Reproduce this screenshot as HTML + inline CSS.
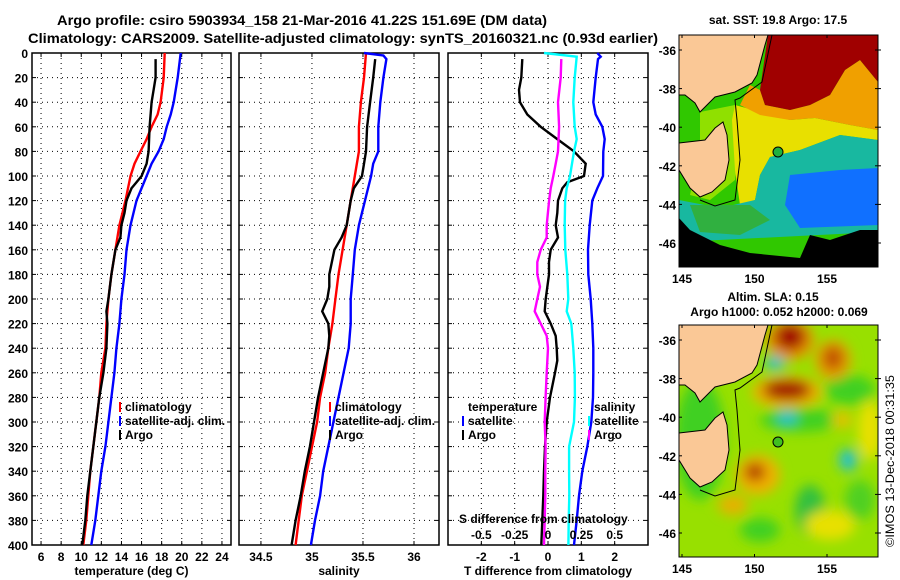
<!DOCTYPE html>
<html><head><meta charset="utf-8"><style>
body{margin:0;background:#fff;}
svg{display:block;font-family:"Liberation Sans",sans-serif;font-weight:bold;}
</style></head><body>
<svg id="fig" width="900" height="580" viewBox="0 0 900 580" xmlns="http://www.w3.org/2000/svg">
<rect width="900" height="580" fill="#fff"/>
<text x="57" y="25" font-size="14" textLength="490" lengthAdjust="spacingAndGlyphs">Argo profile: csiro 5903934_158 21-Mar-2016 41.22S 151.69E (DM data)</text>
<text x="28" y="43" font-size="14" textLength="630" lengthAdjust="spacingAndGlyphs">Climatology: CARS2009. Satellite-adjusted climatology: synTS_20160321.nc (0.93d earlier)</text>
<g id="panels"></g>
<g id="maps">
 <text x="778" y="24" font-size="12" text-anchor="middle">sat. SST: 19.8 Argo: 17.5</text>
 <svg x="679" y="35" width="199" height="232" overflow="hidden">
  <g transform="translate(-679,-35)">
   <rect x="679" y="35" width="199" height="232" fill="#30c800"/>
   <polygon fill="#90e000" points="700,112 735,105 740,140 735,180 710,200 690,195 700,150"/>
   <polygon fill="#e8e000" points="735,105 790,120 815,118 850,125 878,130 878,140 840,135 800,150 770,157 760,175 755,200 740,205 735,170 732,120"/>
   <polygon fill="#f0a000" points="750,85 760,90 765,105 790,110 810,105 830,95 845,70 860,60 878,82 878,130 850,125 815,118 790,120 760,115 740,105"/>
   <polygon fill="#a00000" points="768,35 878,35 878,82 860,60 845,70 830,95 810,105 790,110 765,105 760,90"/>
   <polygon fill="#18b8a0" points="770,157 800,150 840,135 878,140 878,232 679,242 679,200 720,208 755,200 760,175"/>
   <polygon fill="#1070ff" points="790,175 840,170 878,168 878,225 800,228 785,205"/>
   <polygon fill="#30b040" points="690,205 750,205 770,220 740,235 700,232"/>
   <polygon fill="#000" points="679,218 690,230 720,245 750,253 800,258 810,235 830,240 860,230 878,230 878,267 679,267"/>
   <polygon fill="#fac896" stroke="#000" stroke-width="1" points="679,35 768,35 765,45 757,75 752,83 735,92 715,97 705,107 700,112 695,103 685,95 679,95"/>
   <polygon fill="#fac896" stroke="#000" stroke-width="1" points="679,143 705,140 715,128 723,122 727,135 729,160 725,180 712,192 700,197 690,188 679,170"/>
   <path d="M772,35 L762,82 L740,98 L735,100 L737,120 L740,160 L735,200 L715,206 L700,200" fill="none" stroke="#000" stroke-width="1"/>
   <circle cx="778" cy="152" r="5" fill="#20b040" stroke="#000"/>
  </g>
 </svg>
 <rect x="679" y="35" width="199" height="232" fill="none" stroke="#000" stroke-width="1"/>
 <text x="773" y="301" font-size="12" text-anchor="middle">Altim. SLA: 0.15</text>
 <text x="779" y="316" font-size="12" text-anchor="middle">Argo h1000: 0.052 h2000: 0.069</text>
 <svg x="679" y="325" width="199" height="232" overflow="hidden">
  <defs><filter id="bl" x="-50%" y="-50%" width="200%" height="200%"><feGaussianBlur stdDeviation="6"/></filter></defs>
  <g transform="translate(-679,-325)">
   <rect x="679" y="325" width="199" height="232" fill="#98e000"/>
   <g filter="url(#bl)">
    <ellipse cx="700" cy="440" rx="25" ry="60" fill="#40d020"/>
    <ellipse cx="800" cy="420" rx="40" ry="12" fill="#40d020"/>
    <ellipse cx="850" cy="390" rx="25" ry="15" fill="#40d020"/>
    <ellipse cx="810" cy="510" rx="15" ry="25" fill="#30c040"/>
    <ellipse cx="760" cy="530" rx="20" ry="12" fill="#40d020"/>
    <ellipse cx="860" cy="500" rx="15" ry="20" fill="#50d020"/>
    <ellipse cx="790" cy="340" rx="24" ry="20" fill="#e89000"/>
    <ellipse cx="790" cy="337" rx="15" ry="13" fill="#a00000"/>
    <ellipse cx="833" cy="360" rx="18" ry="20" fill="#e8a000"/>
    <ellipse cx="833" cy="358" rx="10" ry="12" fill="#c05000"/>
    <ellipse cx="775" cy="363" rx="10" ry="7" fill="#20c0d0"/>
    <ellipse cx="787" cy="392" rx="35" ry="16" fill="#f0b000"/>
    <ellipse cx="787" cy="390" rx="24" ry="10" fill="#a00000"/>
    <ellipse cx="787" cy="418" rx="10" ry="7" fill="#20c0d0"/>
    <ellipse cx="848" cy="460" rx="9" ry="11" fill="#20c0d0"/>
    <ellipse cx="758" cy="475" rx="22" ry="20" fill="#f0b000"/>
    <ellipse cx="755" cy="472" rx="10" ry="9" fill="#b03000"/>
    <ellipse cx="733" cy="505" rx="15" ry="10" fill="#e8b000"/>
    <ellipse cx="830" cy="525" rx="25" ry="15" fill="#e8e000"/>
    <ellipse cx="870" cy="430" rx="12" ry="30" fill="#e8e000"/>
    <ellipse cx="842" cy="420" rx="10" ry="8" fill="#e8c000"/>
   </g>
   <polygon fill="#fac896" stroke="#000" stroke-width="1" points="679,325 768,325 765,335 757,365 752,373 735,382 715,387 705,397 700,402 695,393 685,385 679,385"/>
   <polygon fill="#fac896" stroke="#000" stroke-width="1" points="679,433 705,430 715,418 723,412 727,425 729,450 725,470 712,482 700,487 690,478 679,460"/>
   <path d="M772,325 L762,372 L740,388 L735,390 L737,410 L740,450 L735,490 L715,496 L700,490" fill="none" stroke="#000" stroke-width="1"/>
   <circle cx="778" cy="442" r="5" fill="#40c020" stroke="#000"/>
  </g>
 </svg>
 <rect x="679" y="325" width="199" height="232" fill="none" stroke="#000" stroke-width="1"/>
 <g id="mapticks" font-size="12"></g>
 <text transform="translate(894,547) rotate(-90)" font-size="12" font-weight="normal" textLength="172" lengthAdjust="spacingAndGlyphs">©IMOS 13-Dec-2018 00:31:35</text>
</g>
</svg>
<script>
// ---- data (depth in dbar) ----
const tempDepth = [0,20,40,50,60,70,80,90,100,120,140,160,180,200,220,240,260,280,300,320,340,360,380,400];
const tempClim  = [18.3,18.2,17.9,17.6,17.0,16.5,15.9,15.3,14.9,14.4,13.8,13.4,13.0,12.7,12.5,12.4,12.0,11.8,11.5,11.2,10.9,10.7,10.5,10.2];
const tempSat   = [19.9,19.6,19.2,18.9,18.5,18.2,17.7,17.0,16.5,15.5,14.9,14.5,14.3,14.0,13.8,13.5,13.3,13.0,12.7,12.4,12.0,11.7,11.4,11.0];
const argoDepth = [5,20,30,40,60,80,90,100,105,110,120,130,140,150,160,170,180,200,210,220,240,260,280,300,320,340,360,380,400];
const tempArgo  = [17.4,17.4,17.2,17.0,16.8,16.7,16.5,16.0,15.5,15.0,14.5,14.3,14.0,13.9,13.4,13.2,13.0,12.7,12.5,12.6,12.5,12.2,11.8,11.5,11.2,10.9,10.6,10.4,10.1];
const salDepth  = [0,20,40,60,80,100,120,140,160,180,200,220,240,260,280,300,320,340,360,380,400];
const salClim   = [35.53,35.51,35.48,35.46,35.46,35.42,35.38,35.34,35.30,35.26,35.23,35.20,35.16,35.13,35.08,35.05,35.00,34.95,34.90,34.87,34.84];
const salSatDepth = [0,2,5,20,40,60,80,90,100,120,140,160,180,200,220,240,260,280,300,320,340,360,380,400];
const salSat    = [35.51,35.70,35.73,35.70,35.67,35.65,35.65,35.60,35.58,35.52,35.46,35.42,35.40,35.38,35.38,35.36,35.31,35.26,35.21,35.16,35.11,35.08,35.03,34.99];
const salArgoDepth = [5,20,40,60,80,100,110,120,140,150,160,180,190,200,210,220,230,240,260,280,300,320,340,360,380,400];
const salArgo   = [35.62,35.60,35.57,35.54,35.53,35.49,35.41,35.38,35.34,35.29,35.22,35.17,35.17,35.15,35.10,35.16,35.17,35.16,35.11,35.06,35.02,34.98,34.93,34.89,34.84,34.80];
const dTArgoDepth = [5,20,30,40,50,60,70,80,90,100,105,110,120,130,140,150,160,170,180,200,210,220,230,240,250,260,280,300,320,340,360,380,400];
const dTArgo    = [-0.77,-0.8,-0.87,-0.84,-0.62,-0.22,0.28,0.78,1.13,1.08,0.58,0.43,0.3,0.28,0.23,0.3,0.08,0.03,0.03,-0.07,-0.1,0.08,0.23,0.26,0.28,0.21,0.06,-0.04,-0.09,-0.12,-0.14,-0.17,-0.2];
const dTSatDepth = [0,3,5,20,40,50,60,70,80,100,110,120,140,160,180,200,220,240,260,280,300,320,340,360,380,400];
const dTSat     = [1.48,1.58,1.5,1.43,1.36,1.43,1.63,1.7,1.66,1.65,1.48,1.33,1.25,1.2,1.21,1.28,1.33,1.36,1.36,1.35,1.3,1.18,1.03,0.93,0.86,0.78];
const dSArgoDepth = [5,20,40,60,80,90,100,110,120,140,150,160,170,180,190,200,210,220,230,240,260,280,300,320,340,360,380,400];
const dSArgo    = [0.1,0.095,0.075,0.083,0.075,0.058,0.04,0.02,0.008,-0.01,-0.01,-0.055,-0.08,-0.08,-0.06,-0.08,-0.1,-0.055,-0.01,0,-0.01,-0.018,-0.025,-0.018,-0.02,-0.02,-0.025,-0.03];
const dSSatDepth = [0,3,20,40,60,70,80,90,100,110,120,140,160,180,200,210,220,240,260,280,300,320,340,360,380,400];
const dSSat     = [-0.03,0.215,0.2,0.19,0.2,0.215,0.195,0.18,0.165,0.14,0.128,0.125,0.13,0.145,0.152,0.14,0.175,0.19,0.2,0.202,0.195,0.158,0.158,0.16,0.155,0.153];
const depthTicks = [0,20,40,60,80,100,120,140,160,180,200,220,240,260,280,300,320,340,360,380,400];
const tempTicks = [6,8,10,12,14,16,18,20,22,24];
const salTicks = [34.5,35,35.5,36];
const dTTicks = [-2,-1,0,1,2];
const dSTicks = [-0.5,-0.25,0,0.25,0.5];
const dSTickLabels = ["-0.5","-0.25","0","0.25","0.5"];
const lonTicks = [145,150,155];
const latTicks = [-36,-38,-40,-42,-44,-46];

const NS="http://www.w3.org/2000/svg";
const Y0=53, Y1=545;
const yD = d => Y0 + d/400*(Y1-Y0);
function mk(tag, attrs, parent){const e=document.createElementNS(NS,tag);for(const k in attrs)e.setAttribute(k,attrs[k]);parent.appendChild(e);return e;}
const root=document.getElementById('panels');

function panel(name,x0,x1,vmin,vmax,ticks,labels,xlabel,showDepth){
  const g=mk('g',{},root);
  
  
  const sx=v=>x0+(v-vmin)/(vmax-vmin)*(x1-x0);
  depthTicks.forEach(d=>{ if(d>0&&d<400) mk('line',{x1:x0,x2:x1,y1:yD(d),y2:yD(d),stroke:'#000','stroke-dasharray':'1,4','stroke-width':1},g);
    mk('line',{x1:x0,x2:x0+4,y1:yD(d),y2:yD(d),stroke:'#000'},g);
    mk('line',{x1:x1-4,x2:x1,y1:yD(d),y2:yD(d),stroke:'#000'},g);
    if(showDepth){const t=mk('text',{x:28,y:yD(d)+5,'font-size':12,'text-anchor':'end'},g);t.textContent=d;
      
      }
  });
  ticks.forEach((v,i)=>{ mk('line',{x1:sx(v),x2:sx(v),y1:Y0,y2:Y1,stroke:'#000','stroke-dasharray':'1,4'},g);
    mk('line',{x1:sx(v),x2:sx(v),y1:Y1-4,y2:Y1,stroke:'#000'},g);
    mk('line',{x1:sx(v),x2:sx(v),y1:Y0,y2:Y0+4,stroke:'#000'},g);
    const t=mk('text',{x:sx(v),y:Y1+16,'font-size':12,'text-anchor':'middle'},g);t.textContent=labels[i];
    
    
  });
  mk('rect',{x:x0,y:Y0,width:x1-x0,height:Y1-Y0,fill:'none',stroke:'#000','stroke-width':1.5},g);
  const xl=mk('text',{x:(x0+x1)/2,y:575,'font-size':12,'text-anchor':'middle'},g);xl.textContent=xlabel;
  
  
  return {g,sx};
}
function line(p,depths,vals,color,name){
  const pts=depths.map((d,i)=>p.sx(vals[i]).toFixed(1)+','+yD(d).toFixed(1)).join(' ');
  const l=mk('polyline',{points:pts,fill:'none',stroke:color,'stroke-width':2.4},p.g);
  
  
}
function leg(g,x,y,color,txt){
  mk('rect',{x:x-6,y:y-9,width:2,height:10,fill:color},g);
  const t=mk('text',{x:x,y:y,'font-size':12},g);t.textContent=txt;
  
  
}

const p1=panel('temperature-panel',32,231,5.1,24.9,tempTicks,tempTicks,'temperature (deg C)',true);
line(p1,tempDepth,tempClim,'#f00','temp-climatology-line');
line(p1,tempDepth,tempSat,'#00f','temp-satellite-line');
line(p1,argoDepth,tempArgo,'#000','temp-argo-line');
leg(p1.g,125,411,'#f00','climatology');leg(p1.g,125,425,'#00f','satellite-adj. clim.');leg(p1.g,125,439,'#000','Argo');

const p2=panel('salinity-panel',239,439,34.285,36.245,salTicks,salTicks,'salinity',false);
line(p2,salDepth,salClim,'#f00','sal-climatology-line');
line(p2,salSatDepth,salSat,'#00f','sal-satellite-line');
line(p2,salArgoDepth,salArgo,'#000','sal-argo-line');
leg(p2.g,335,411,'#f00','climatology');leg(p2.g,335,425,'#00f','satellite-adj. clim.');leg(p2.g,335,439,'#000','Argo');

const p3=panel('difference-panel',448,648,-3,3,dTTicks,dTTicks,'T difference from climatology',false);
const p3s={g:p3.g,sx:v=>p3.sx(v*4)};
line(p3,dTArgoDepth,dTArgo,'#000','dT-argo-line');
line(p3,dTSatDepth,dTSat,'#00f','dT-satellite-line');
line(p3s,dSArgoDepth,dSArgo,'#f0f','dS-argo-line');
line(p3s,dSSatDepth,dSSat,'#0ff','dS-satellite-line');
dSTicks.forEach((v,i)=>{const t=mk('text',{x:p3s.sx(v),y:539,'font-size':12,'text-anchor':'middle'},p3.g);t.textContent=dSTickLabels[i];
  
  });
const st=mk('text',{x:459,y:523,'font-size':12},p3.g);st.textContent='S difference from climatology';


const th=mk('text',{x:468,y:411,'font-size':12},p3.g);th.textContent='temperature';


leg(p3.g,468,425,'#00f','satellite');leg(p3.g,468,439,'#000','Argo');
const sh=mk('text',{x:594,y:411,'font-size':12},p3.g);sh.textContent='salinity';


leg(p3.g,594,425,'#0ff','satellite');leg(p3.g,594,439,'#f0f','Argo');

// map ticks
const mt=document.getElementById('mapticks');
function mapAxes(top,bottom,latY){
  lonTicks.forEach(l=>{const x=682+(l-145)*14.5;
    mk('line',{x1:x,x2:x,y1:bottom-3,y2:bottom,stroke:'#000'},mt);
    mk('line',{x1:x,x2:x,y1:top,y2:top+3,stroke:'#000'},mt);
    const t=mk('text',{x:x,y:bottom+16,'text-anchor':'middle'},mt);t.textContent=l;
    
    });
  latTicks.forEach(l=>{const y=latY+(-36-l)*19.3;
    mk('line',{x1:875,x2:881,y1:y,y2:y,stroke:'#000'},mt);
    mk('line',{x1:679,x2:682,y1:y,y2:y,stroke:'#000'},mt);
    const t=mk('text',{x:676,y:y+5,'text-anchor':'end'},mt);t.textContent=l;
    
    });
}
mapAxes(35,267,50);
mapAxes(325,557,340);
</script>
</body></html>
